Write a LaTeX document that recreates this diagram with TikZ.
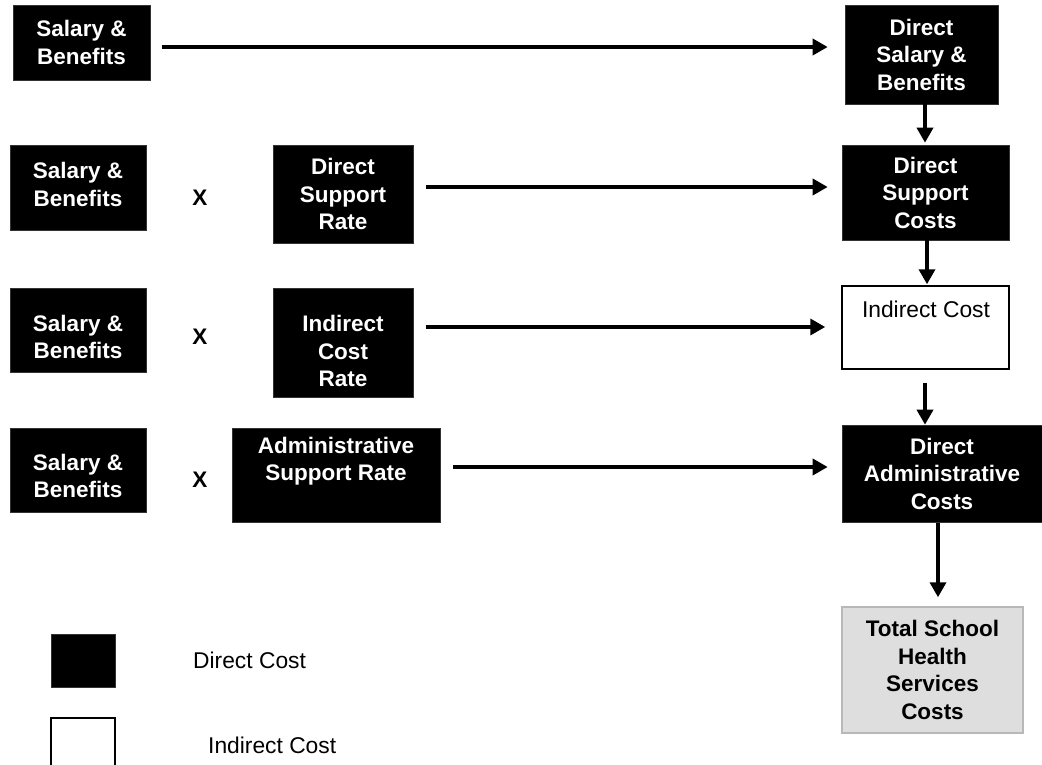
\documentclass[tikz,border=0pt]{standalone}
\usepackage{fontspec}
\setmainfont{Liberation Sans}
\usetikzlibrary{arrows.meta}
\begin{document}
\begin{tikzpicture}[x=1pt,y=-1pt,
  bfont/.style={font=\bfseries\fontsize{22.5}{27.5}\selectfont},
  dbox/.style={rectangle, fill=black, draw=black!80, line width=0.6pt, text=white, align=center,
    bfont, inner sep=0pt},
  wtext/.style={text=white, align=center, bfont, inner sep=0pt},
  ibox/.style={rectangle, fill=white, draw=black, line width=1.5pt, inner sep=0pt},
  tbox/.style={rectangle, fill=black!13, draw=black!28, line width=1.5pt, align=center,
    bfont, inner sep=0pt},
  lbl/.style={font=\fontsize{22.8}{27}\selectfont, inner sep=0pt},
  times/.style={bfont, inner sep=0pt},
  arr/.style={line width=3.5pt, -{Triangle[length=15pt,width=16pt]}}
]
\useasboundingbox (0,0) rectangle (1042,765);
% row 1
\node[dbox, minimum width=137pt, minimum height=75pt] (s1) at (81.5,42.5) {Salary \&\\Benefits};
\node[dbox, minimum width=153pt, minimum height=99pt] (dsb) at (921.5,54.5) {Direct\\Salary \&\\Benefits};
% row 2
\node[dbox, minimum width=136pt, minimum height=85pt] (s2) at (78,187.5) {};
\node[wtext] (s2t) at (78,184.5) {Salary \&\\Benefits};
\node[times] (x2) at (200,198) {X};
\node[dbox, minimum width=140pt, minimum height=98pt] (dsr) at (343,194) {Direct\\Support\\Rate};
\node[dbox, minimum width=167pt, minimum height=95pt] (dsc) at (925.5,192.5) {Direct\\Support\\Costs};
% row 3
\node[dbox, minimum width=136pt, minimum height=84pt] (s3) at (78,330) {};
\node[wtext] (s3t) at (78,337) {Salary \&\\Benefits};
\node[times] (x3) at (200,337) {X};
\node[dbox, minimum width=140pt, minimum height=109pt] (icr) at (343,342.5) {};
\node[wtext] (icrt) at (343,351) {Indirect\\Cost\\Rate};
\node[ibox, minimum width=167pt, minimum height=83pt] (ic) at (925.5,327.5) {};
\node[lbl] (ict) at (926,309) {Indirect Cost};
% row 4
\node[dbox, minimum width=136pt, minimum height=84pt] (s4) at (78,470) {};
\node[wtext] (s4t) at (78,476) {Salary \&\\Benefits};
\node[times] (x4) at (200,480) {X};
\node[dbox, minimum width=208pt, minimum height=94pt] (asr) at (336,475) {};
\node[wtext] (asrt) at (336,461) {Administrative\\Support Rate};
\node[dbox, minimum width=200pt, minimum height=97pt] (dac) at (942,473.5) {Direct\\Administrative\\Costs};
% total
\node[tbox, minimum width=181pt, minimum height=126pt] (tot) at (932.5,670) {Total School\\Health\\Services\\Costs};
% legend
\node[dbox, minimum width=64pt, minimum height=53pt] (lk1) at (83,660.5) {};
\node[lbl, anchor=west] (lt1) at (193,660) {Direct Cost};
\node[ibox, minimum width=64pt, minimum height=52pt] (lk2) at (83,744) {};
\node[lbl, anchor=west] (lt2) at (208,745) {Indirect Cost};
% arrows
\draw[arr] ([shift={(12,4.5)}]s1.east) -- ([shift={(-17,-7.5)}]dsb.west);
\draw[arr] ([shift={(13,-7)}]dsr.east) -- ([shift={(-14,-5.5)}]dsc.west);
\draw[arr] ([shift={(13,-15.5)}]icr.east) -- ([shift={(-16,-0.5)}]ic.west);
\draw[arr] ([shift={(13,-8)}]asr.east) -- ([shift={(-14,-6.5)}]dac.west);
\draw[arr] ([xshift=3.5]dsb.south) -- ([shift={(-0.5,-2)}]dsc.north);
\draw[arr] ([xshift=1.5]dsc.south) -- ([shift={(1.5,-1)}]ic.north);
\draw[arr] ([shift={(-0.5,13)}]ic.south) -- ([shift={(-17,0)}]dac.north);
\draw[arr] ([shift={(-4,1)}]dac.south) -- ([shift={(5.5,-9)}]tot.north);
\end{tikzpicture}
\end{document}
